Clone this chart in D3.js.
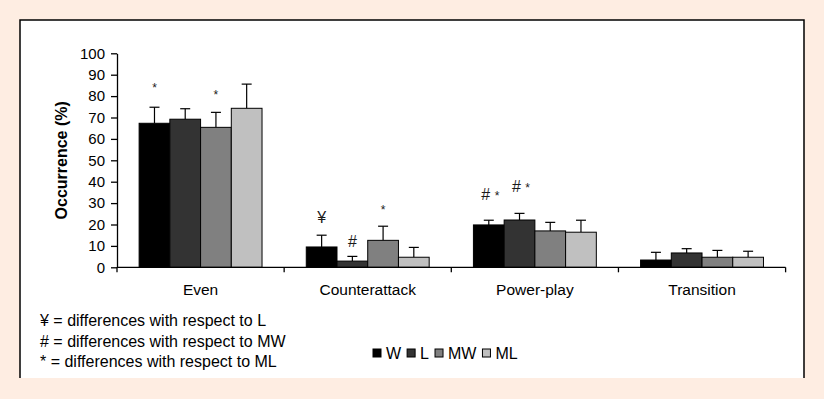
<!DOCTYPE html>
<html>
<head>
<meta charset="utf-8">
<script src="https://cdn.jsdelivr.net/npm/d3@7"></script>
<style>
  html, body { margin: 0; padding: 0; background: #feede2; }
  svg { display: block; font-family: "Liberation Sans", Arial, sans-serif; }
</style>
</head>
<body>
<svg id="chart" width="824" height="399"></svg>
<script>
// data
const categories = ['Even', 'Counterattack', 'Power-play', 'Transition']
const seriesNames = ['W', 'L', 'MW', 'ML']
const seriesColors = ['#000000', '#333333', '#808080', '#c0c0c0']

const wValues = [67.3, 9.5, 19.8, 3.4]
const lValues = [69.2, 2.9, 22.1, 6.7]
const mwValues = [65.4, 12.6, 17.0, 4.7]
const mlValues = [74.3, 4.7, 16.4, 4.7]

const wSD = [7.5, 5.5, 2.2, 3.6]
const lSD = [4.9, 2.2, 3.1, 2.0]
const mwSD = [7.0, 6.6, 4.0, 3.2]
const mlSD = [11.3, 4.6, 5.6, 2.8]

const yTicks = [0, 10, 20, 30, 40, 50, 60, 70, 80, 90, 100]

// significance marks: category, series, symbols, level (baseline, % units)
const markCategories = ['Even', 'Even', 'Counterattack', 'Counterattack', 'Counterattack', 'Power-play', 'Power-play']
const markSeries = ['W', 'MW', 'W', 'L', 'MW', 'W', 'L']
const markTexts = ['*', '*', '¥', '#', '*', '# *', '# *']
const markLevels = [81.9, 78.8, 20.9, 9.3, 25.0, 31.6, 35.4]

const noteLines = [
    '¥ = differences with respect to L',
    '# = differences with respect to MW',
    '* = differences with respect to ML'
]

const allValues = [wValues, lValues, mwValues, mlValues]
const allSD = [wSD, lSD, mwSD, mlSD]

const padding = { top: 53.3, left: 117, right: 38.4, bottom: 131.7 }
const width = 824
const height = 399

const svg = d3.select('#chart')

// white panel with border on top, left and right
const panel = { x: 20, y: 20, w: 784, h: 358 }
svg.append('rect')
    .attr('x', panel.x)
    .attr('y', panel.y)
    .attr('width', panel.w)
    .attr('height', panel.h)
    .attr('fill', '#ffffff')
svg.append('path')
    .attr('d', `M${panel.x},${panel.y + panel.h}V${panel.y}H${panel.x + panel.w}V${panel.y + panel.h}`)
    .attr('fill', 'none')
    .attr('stroke', '#000')
    .attr('stroke-width', 1.5)

const x = d3.scaleBand()
    .domain(categories)
    .range([padding.left, width - padding.right])

const xInner = d3.scaleBand()
    .domain(seriesNames)
    .range([0, x.bandwidth()])
    .paddingOuter(0.72)

const y = d3.scaleLinear()
    .domain([0, 100])
    .range([height - padding.bottom, padding.top])

const color = d3.scaleOrdinal().domain(seriesNames).range(seriesColors)

const rows = []
categories.forEach((c, ci) => {
    seriesNames.forEach((s, si) => {
        rows.push({ category: c, series: s, value: allValues[si][ci], sd: allSD[si][ci] })
    })
})

// error bars (upper half only)
const errG = svg.append('g').attr('stroke', '#000').attr('stroke-width', 1.2)
rows.forEach(d => {
    const cx = x(d.category) + xInner(d.series) + xInner.bandwidth() / 2
    errG.append('line')
        .attr('x1', cx).attr('x2', cx)
        .attr('y1', y(d.value)).attr('y2', y(d.value + d.sd))
    errG.append('line')
        .attr('x1', cx - 5).attr('x2', cx + 5)
        .attr('y1', y(d.value + d.sd)).attr('y2', y(d.value + d.sd))
})

svg.append('g')
    .selectAll('rect')
    .data(rows)
    .enter()
    .append('rect')
    .attr('x', d => x(d.category) + xInner(d.series))
    .attr('y', d => y(d.value))
    .attr('width', xInner.bandwidth())
    .attr('height', d => y(0) - y(d.value))
    .attr('fill', d => color(d.series))
    .attr('stroke', '#000')
    .attr('stroke-width', 1)

// y axis
const yAxis = svg.append('g')
    .attr('transform', `translate(${padding.left},0)`)
    .call(d3.axisLeft(y).tickValues(yTicks).tickSize(6).tickSizeOuter(0).tickPadding(6))
yAxis.select('.domain').attr('stroke-width', 1.3)
yAxis.selectAll('.tick line').attr('stroke-width', 1.3)
yAxis.selectAll('text')
    .attr('font-size', 15)
    .attr('font-family', '"Liberation Sans", Arial, sans-serif')
    .attr('fill', '#000')

// x axis: baseline with ticks on category boundaries
const xg = svg.append('g')
xg.append('line')
    .attr('x1', x.range()[0]).attr('x2', x.range()[1])
    .attr('y1', y(0)).attr('y2', y(0))
    .attr('stroke', '#000').attr('stroke-width', 1.3)
const boundaries = categories.map(c => x(c)).concat([x.range()[1]])
xg.selectAll('line.tick')
    .data(boundaries)
    .enter()
    .append('line')
    .attr('class', 'tick')
    .attr('x1', d => d).attr('x2', d => d)
    .attr('y1', y(0)).attr('y2', y(0) + 5)
    .attr('stroke', '#000').attr('stroke-width', 1.3)
xg.selectAll('text')
    .data(categories)
    .enter()
    .append('text')
    .attr('x', d => x(d) + x.bandwidth() / 2)
    .attr('y', y(0) + 28)
    .attr('text-anchor', 'middle')
    .attr('font-size', 15.5)
    .text(d => d)

// y title
svg.append('text')
    .attr('transform', `translate(67,${(y(0) + y(100)) / 2}) rotate(-90)`)
    .attr('text-anchor', 'middle')
    .attr('font-size', 16)
    .attr('font-weight', 'bold')
    .text('Occurrence (%)')

// significance marks: '#' and '¥' larger, '*' small
markTexts.forEach((t, i) => {
    const txt = svg.append('text')
        .attr('x', x(markCategories[i]) + xInner(markSeries[i]) + xInner.bandwidth() / 2 + (t.length > 1 ? 1.5 : 0))
        .attr('y', y(markLevels[i]))
        .attr('text-anchor', 'middle')
        .attr('fill', '#1a1a1a')
    t.split('').forEach(ch => {
        txt.append('tspan')
            .attr('font-size', ch === '*' ? 12 : 16)
            .text(ch)
    })
})

// notes
svg.append('g')
    .selectAll('text')
    .data(noteLines)
    .enter()
    .append('text')
    .attr('x', 40)
    .attr('y', (d, i) => 326 + i * 20.5)
    .attr('font-size', 16)
    .text(d => d)

// legend
const legend = svg.append('g').attr('transform', 'translate(373,353)')
let cursor = 0
seriesNames.forEach(s => {
    const item = legend.append('g').attr('transform', `translate(${cursor},0)`)
    item.append('rect')
        .attr('x', 0).attr('y', -4)
        .attr('width', 8).attr('height', 8)
        .attr('fill', color(s))
        .attr('stroke', '#000')
        .attr('stroke-width', 1)
    const label = item.append('text')
        .attr('x', 13)
        .attr('y', 6)
        .attr('font-size', 16)
        .text(s)
    cursor += 13 + label.node().getComputedTextLength() + 6
})
</script>
</body>
</html>
